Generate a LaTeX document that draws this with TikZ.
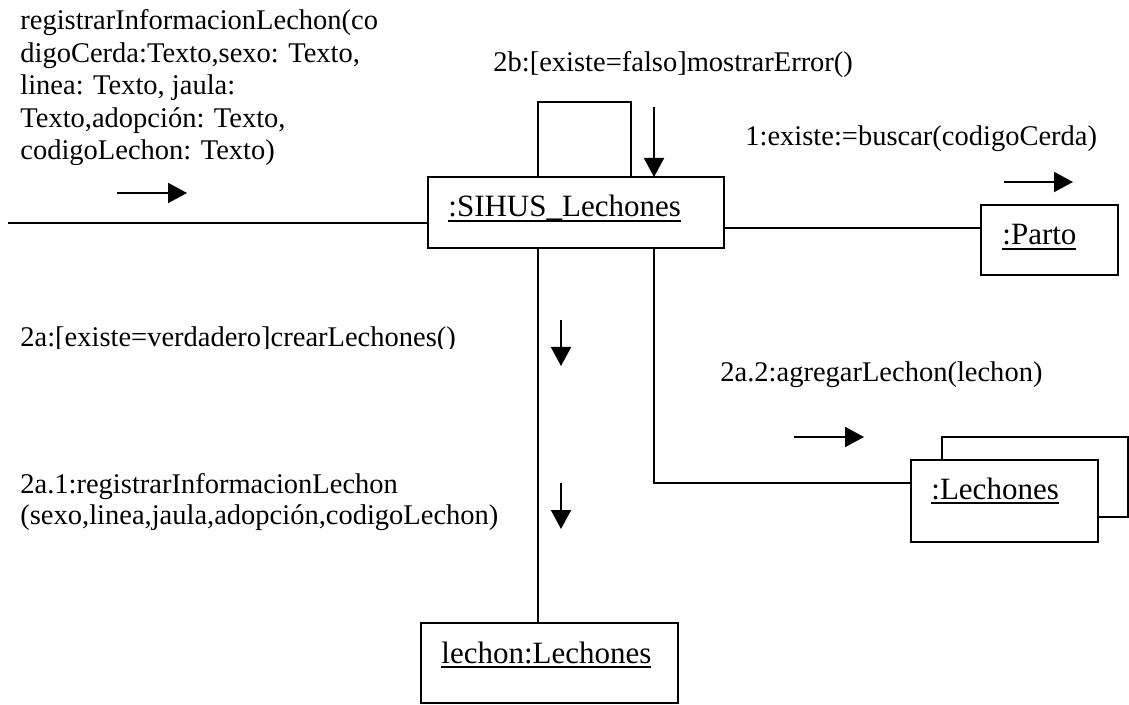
\documentclass[tikz,border=0pt]{standalone}
\usepackage{fontspec}
\setmainfont{Liberation Serif}
\usetikzlibrary{arrows.meta}
\newcommand{\objname}[1]{\setbox0\hbox{#1}\rlap{\rule[-2.4pt]{\wd0}{0.8pt}}\box0}
\begin{document}
\begin{tikzpicture}[x=0.5pt,y=-0.5pt,
  obj/.style={draw, line width=1pt, inner sep=0pt, fill=white},
  link/.style={line width=1pt},
  msg/.style={line width=1pt, -{Triangle[length=9.5pt,width=10pt]}},
  lbl/.style={anchor=base west, inner sep=0pt, font=\fontsize{14.25}{16.65}\selectfont},
  oname/.style={anchor=base west, inner sep=0pt, font=\fontsize{15.5}{18}\selectfont}]
\useasboundingbox (0,0) rectangle (1129,705);
% object boxes
\node[obj, minimum width=148pt, minimum height=35.5pt] (sihus) at (576,212.5) {};
\node[obj, minimum width=68.5pt, minimum height=35pt] (parto) at (1049.5,240) {};
\node[obj, minimum width=93pt, minimum height=40pt] (lechB) at (1035,477) {};
\node[obj, minimum width=93.5pt, minimum height=41pt] (lechF) at (1004.5,501) {};
\node[obj, minimum width=128.5pt, minimum height=40pt] (lechon) at (549.5,663) {};
% object names
\node[oname] (tSihus) at (448,217) {\objname{:SIHUS\_Lechones}};
\node[oname] (tParto) at (1002,245) {\objname{:Parto}};
\node[oname] (tLech) at (931,499) {\objname{:Lechones}};
\node[oname] (tLechon) at (441,663) {\objname{lechon:Lechones}};
% links
\coordinate (inL) at (8,223);
\draw[link] (inL) -- (inL -| sihus.west);
\coordinate (pIn) at ([yshift=6pt]parto.west);
\draw[link] (pIn -| sihus.east) -- (pIn);
\coordinate (loopA) at ([xshift=-19pt]sihus.north);
\coordinate (loopB) at ([xshift=27.5pt]sihus.north);
\draw[link] (loopA) -- ++(0,-74) -| (loopB);
\coordinate (sL) at ([xshift=-19pt]sihus.south);
\draw[link] (sL) -- (sL |- lechon.north);
\coordinate (sR) at ([xshift=39pt]sihus.south);
\coordinate (fIn) at ([yshift=9pt]lechF.west);
\draw[link] (sR) |- (fIn);
% message arrows
\coordinate (m0s) at (117,193); \coordinate (m0e) at (187,193);
\draw[msg] (m0s) -- (m0e);
\coordinate (m2bs) at (654,107); \coordinate (m2be) at (654,177);
\draw[msg] (m2bs) -- (m2be);
\coordinate (m1s) at (1004,182); \coordinate (m1e) at (1073,182);
\draw[msg] (m1s) -- (m1e);
\coordinate (m2as) at (561,320); \coordinate (m2ae) at (561,366);
\draw[msg] (m2as) -- (m2ae);
\coordinate (m2a1s) at (561,483); \coordinate (m2a1e) at (561,529);
\draw[msg] (m2a1s) -- (m2a1e);
\coordinate (m2a2s) at (794,437); \coordinate (m2a2e) at (864,437);
\draw[msg] (m2a2s) -- (m2a2e);
% labels
\begin{scope}
\clip (0,0) rectangle (420,165);
\node[lbl] (l0a) at (20,30) {registrarInformacionLechon(co};
\node[lbl] (l0b) at (20,62.5) {digoCerda:Texto,sexo: Texto,};
\node[lbl] (l0c) at (20,95) {linea: Texto, jaula:};
\node[lbl] (l0d) at (20,127.5) {Texto,adopción: Texto,};
\node[lbl] (l0e) at (20,160) {codigoLechon: Texto)};
\end{scope}
\node[lbl] (l2b) at (493,72) {2b:[existe=falso]mostrarError()};
\node[lbl] (l1) at (745,146) {1:existe:=buscar(codigoCerda)};
\begin{scope}
\clip (0,300) rectangle (540,348.5);
\node[lbl] (l2a) at (20,347) {2a:[existe=verdadero]crearLechones()};
\end{scope}
\node[lbl] (l2a2) at (720,382) {2a.2:agregarLechon(lechon)};
\node[lbl] (l2a1a) at (20,493) {2a.1:registrarInformacionLechon};
\node[lbl] (l2a1b) at (20,524) {(sexo,linea,jaula,adopción,codigoLechon)};
\end{tikzpicture}
\end{document}
